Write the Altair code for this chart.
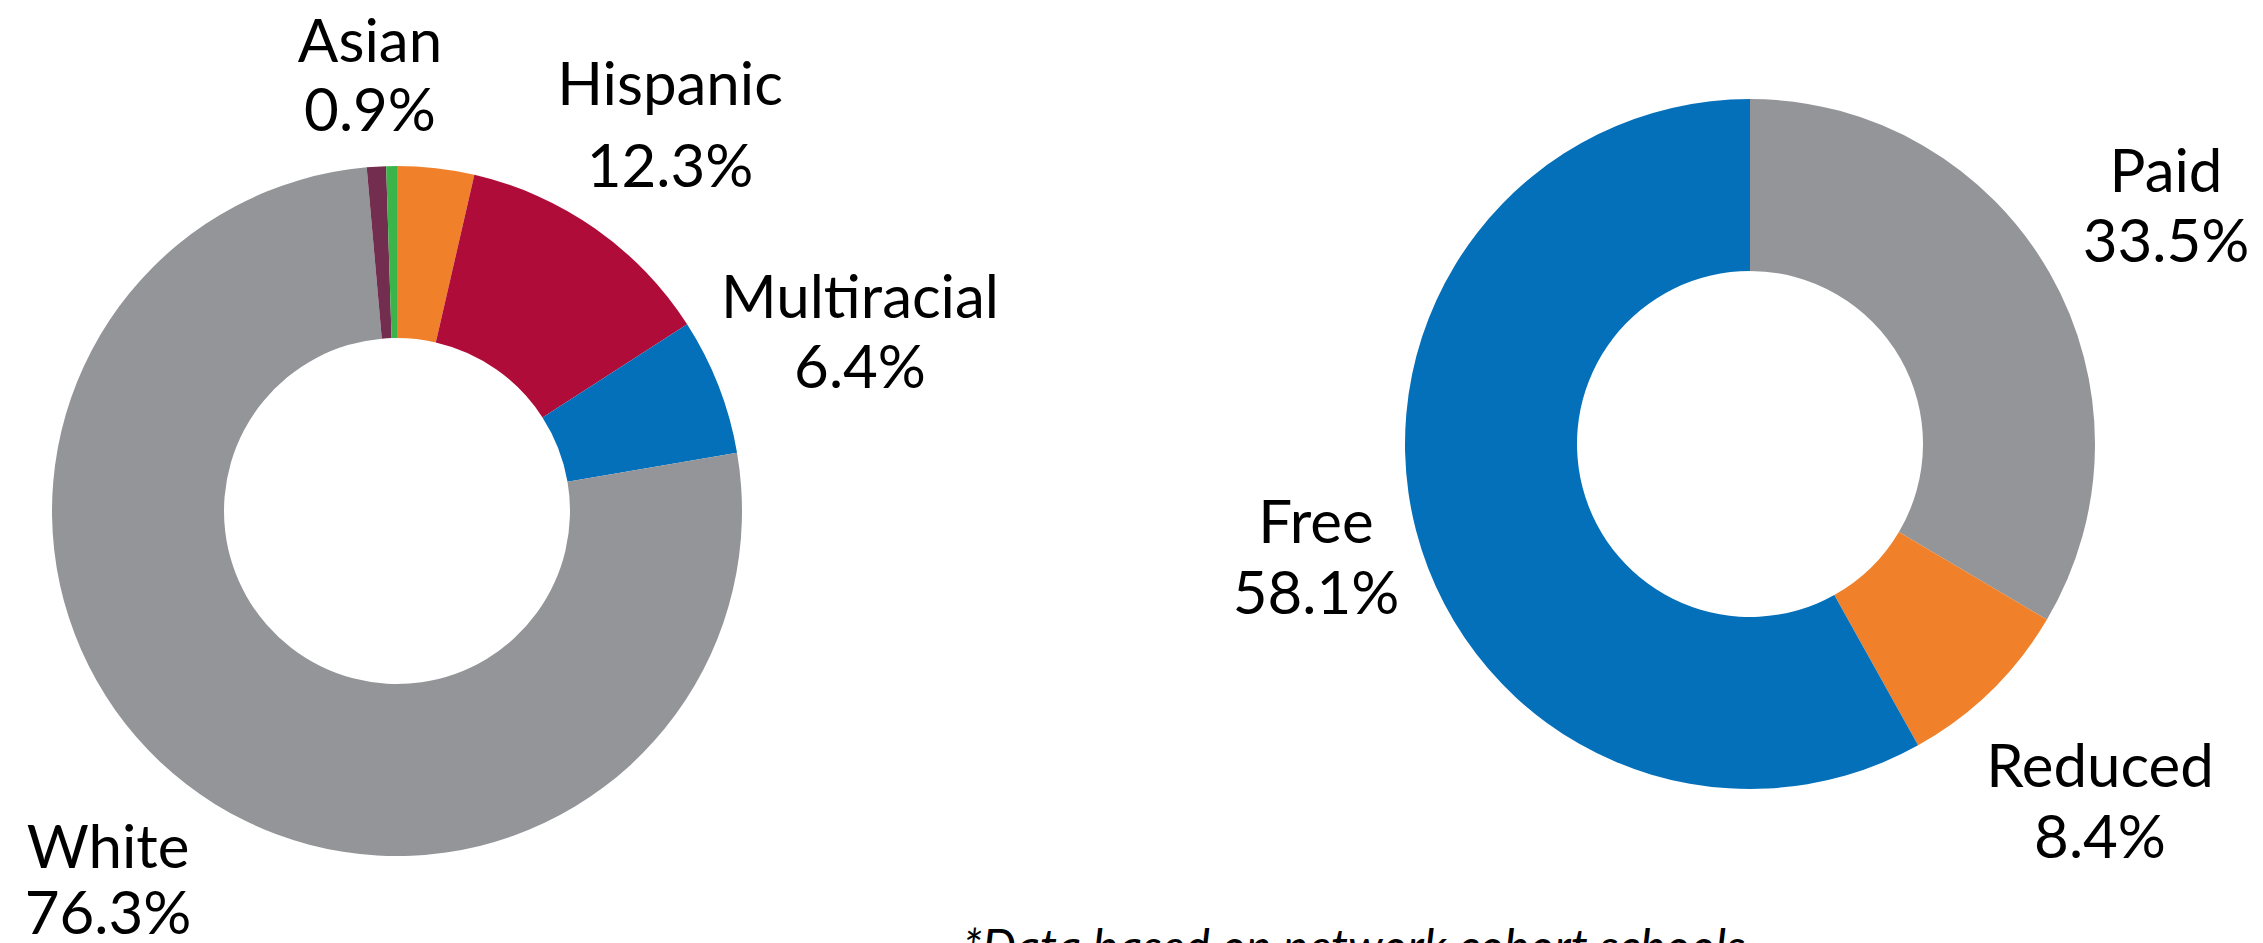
import altair as alt
import pandas as pd

# ---- data ----
race_categories = ["Black", "Hispanic", "Multiracial", "White", "Asian", "Other"]
race_values = [3.6, 12.3, 6.4, 76.3, 0.9, 0.5]
race_labeled = ["Asian", "Hispanic", "Multiracial", "White"]

lunch_categories = ["Paid", "Reduced", "Free"]
lunch_values = [33.5, 8.4, 58.1]
lunch_labeled = ["Paid", "Reduced", "Free"]

footnote = "*Data based on network cohort schools"

# ---- styles / layout ----
race_colors = ["#F0812A", "#B00C3A", "#0570BA", "#939598", "#722D4F", "#3BB54A"]
lunch_colors = ["#939598", "#F0812A", "#0570BA"]

W, H = 2247, 935
FONT = "Lato"
FS = 60
OUTER, INNER = 345, 173

race_center = (389, 503)
lunch_center = (1742, 436)

# (x, y of first baseline, line height)
label_pos = {
    "Asian": (362, 54, 69),
    "Hispanic": (662, 97, 82),
    "Multiracial": (852, 310, 70),
    "White": (100, 860, 66),
    "Paid": (2158, 184, 70),
    "Free": (1308, 535, 71),
    "Reduced": (2092, 779, 71),
}


def donut(cats, vals, colors, center):
    df = pd.DataFrame({"category": cats, "value": vals, "order": list(range(len(cats)))})
    return alt.Chart(df).mark_arc(outerRadius=OUTER, innerRadius=INNER).encode(
        theta=alt.Theta("value:Q", stack=True),
        order=alt.Order("order:Q"),
        color=alt.Color("category:N", scale=alt.Scale(domain=cats, range=colors), legend=None),
        x=alt.value(center[0]),
        y=alt.value(center[1]),
    )


def label(cat, val):
    df = pd.DataFrame({"t": [f"{cat}\n{val:.1f}%"]})
    x, y, lh = label_pos[cat]
    return alt.Chart(df).mark_text(
        font=FONT, fontSize=FS, lineHeight=lh, lineBreak="\n",
        align="center", baseline="alphabetic", color="#000000",
    ).encode(text="t:N", x=alt.value(x), y=alt.value(y))


layers = [
    donut(race_categories, race_values, race_colors, race_center),
    donut(lunch_categories, lunch_values, lunch_colors, lunch_center),
]
for c, v in zip(race_categories, race_values):
    if c in race_labeled:
        layers.append(label(c, v))
for c, v in zip(lunch_categories, lunch_values):
    if c in lunch_labeled:
        layers.append(label(c, v))

fn_df = pd.DataFrame({"t": [footnote]})
layers.append(
    alt.Chart(fn_df).mark_text(
        font=FONT, fontSize=48, fontStyle="italic", align="left",
        baseline="alphabetic", color="#000000",
    ).encode(text="t:N", x=alt.value(955), y=alt.value(956))
)

chart = alt.layer(*layers).resolve_scale(
    color="independent", theta="independent"
).properties(
    width=W, height=H, padding=0, autosize=alt.AutoSizeParams(type="none")
).configure_view(stroke=None)

chart.save("out.html", embed_options={"renderer": "svg", "actions": False})
